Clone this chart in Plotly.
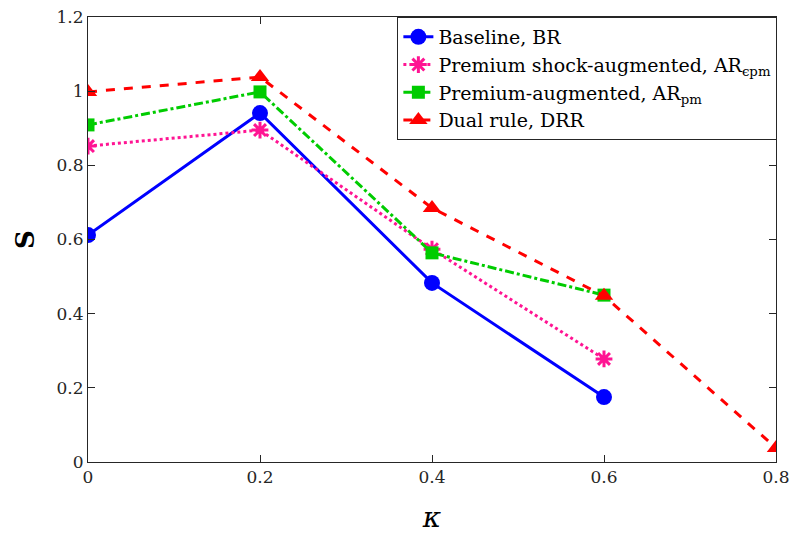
import plotly.graph_objects as go

kappa = [0, 0.2, 0.4, 0.6, 0.8]
baseline = [0.612, 0.941, 0.483, 0.175]
shock_aug = [0.852, 0.895, 0.574, 0.278]
prem_aug = [0.909, 0.998, 0.564, 0.450]
dual = [0.998, 1.038, 0.685, 0.448, 0.038]

names = ["Baseline, BR",
         "Premium shock-augmented, AR<sub>ϵpm</sub>",
         "Premium-augmented, AR<sub>pm</sub>",
         "Dual rule, DRR"]

fig = go.Figure()
fig.add_trace(go.Scatter(x=kappa[:4], y=baseline, name=names[0], mode="lines+markers",
                         line=dict(color="#0000ff", width=3, dash="solid"),
                         marker=dict(symbol="circle", size=16, color="#0000ff")))
fig.add_trace(go.Scatter(x=kappa[:4], y=shock_aug, name=names[1], mode="lines+markers",
                         line=dict(color="#ff1493", width=3, dash="dot"),
                         marker=dict(symbol="asterisk-open", size=14, color="#ff1493",
                                     line=dict(color="#ff1493", width=3))))
fig.add_trace(go.Scatter(x=kappa[:4], y=prem_aug, name=names[2], mode="lines+markers",
                         line=dict(color="#00cc00", width=3, dash="dashdot"),
                         marker=dict(symbol="square", size=13, color="#00cc00")))
fig.add_trace(go.Scatter(x=kappa, y=dual, name=names[3], mode="lines+markers",
                         line=dict(color="#ff0000", width=3, dash="dash"),
                         marker=dict(symbol="triangle-up", size=16, color="#ff0000")))

font = "DejaVu Serif"
fig.update_layout(
    width=796, height=540,
    margin=dict(l=88, r=20, t=17, b=78, autoexpand=False),
    paper_bgcolor="white", plot_bgcolor="white",
    font=dict(family=font, size=17, color="#262626"),
    showlegend=True,
    legend=dict(x=1.002, y=1, xanchor="right", yanchor="top",
                bordercolor="#262626", borderwidth=1, bgcolor="white",
                font=dict(family=font, size=19, color="black"),
                tracegroupgap=0, itemwidth=30),
    xaxis=dict(range=[0, 0.8], tickvals=[0, 0.2, 0.4, 0.6, 0.8],
               ticktext=["0", "0.2", "0.4", "0.6", "0.8"],
               ticks="inside", ticklen=7, tickcolor="#262626",
               showline=True, linecolor="#262626", linewidth=1, mirror="ticks",
               showgrid=False, zeroline=False, automargin=False,
               title=dict(text="<i>κ</i>", font=dict(family=font, size=28, color="black"), standoff=20)),
    yaxis=dict(range=[0, 1.2], tickvals=[0, 0.2, 0.4, 0.6, 0.8, 1.0, 1.2],
               ticktext=["0", "0.2", "0.4", "0.6", "0.8", "1", "1.2"],
               ticks="inside", ticklen=7, tickcolor="#262626",
               showline=True, linecolor="#262626", linewidth=1, mirror="ticks",
               showgrid=False, zeroline=False, automargin=False,
               title=dict(text="<b>S</b>", font=dict(family=font, size=26, color="black"), standoff=14)),
)
fig.write_html("out.html", config={"displayModeBar": False},
               post_script="document.body.style.margin='0';document.body.style.overflow='hidden';")
